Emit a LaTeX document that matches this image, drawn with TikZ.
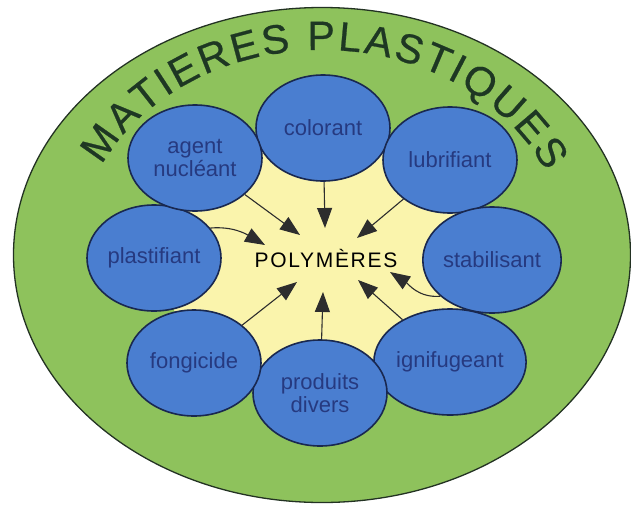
\documentclass[tikz,border=0pt]{standalone}
\usepackage{fontspec}
\setmainfont{Liberation Sans}
\newfontfamily\mppolyfont[LetterSpace=8]{Liberation Sans}
\newfontfamily\mptitlefam[FakeBold=0.6]{Liberation Sans}
\usetikzlibrary{shapes.geometric,arrows.meta,calc,decorations.text}
\definecolor{platecol}{RGB}{142,194,92}
\definecolor{platedge}{RGB}{35,50,35}
\definecolor{bluecol}{RGB}{74,126,208}
\definecolor{blueedge}{RGB}{25,40,80}
\definecolor{labelcol}{RGB}{38,58,128}
\definecolor{yellowcol}{RGB}{250,244,172}
\definecolor{arrowcol}{RGB}{45,45,45}
\definecolor{titlecol}{RGB}{30,55,35}
\newcommand\mptitlefont{\mptitlefam\fontsize{41}{44}\selectfont}
\tikzset{
  addit/.style={ellipse, draw=blueedge, line width=1.6pt, fill=bluecol,
    minimum width=134pt, minimum height=106pt, inner sep=0pt,
    font=\fontsize{22}{23}\selectfont, text=labelcol, align=center},
  arr/.style={draw=arrowcol, line width=1.1pt,
    -{Triangle[length=20pt,width=15pt]}},
}
\begin{document}
\begin{tikzpicture}[x=1pt,y=1pt]
\useasboundingbox (0,0) rectangle (631,-506);
% plate
\node[ellipse, draw=platedge, line width=1.3pt, fill=platecol,
  minimum width=617pt, minimum height=495pt, inner sep=0pt] (plate) at (322,-255) {};
% title along arc
\path[decorate, decoration={text along path,
    text={|\mptitlefont\color{titlecol}|MATIERES PLASTIQUES},
    text align={fit to path}}]
  (322,-255) ++(154:245 and 205) arc[start angle=154, end angle=24, x radius=245pt, y radius=205pt];
% centres
\coordinate (cCol) at (323,-128);
\coordinate (cLub) at (450,-160);
\coordinate (cSta) at (492,-260);
\coordinate (cIgn) at (450,-362);
\coordinate (cPro) at (320,-393);
\coordinate (cFon) at (194,-363);
\coordinate (cPla) at (154,-258);
\coordinate (cAge) at (195,-158);
% yellow core
\fill[yellowcol] ($(cCol)!0.5!(cLub)$) -- ($(cLub)!0.5!(cSta)$) -- ($(cSta)!0.5!(cIgn)$)
  -- ($(cIgn)!0.5!(cPro)$) -- ($(cPro)!0.5!(cFon)$) -- ($(cFon)!0.5!(cPla)$)
  -- ($(cPla)!0.5!(cAge)$) -- ($(cAge)!0.5!(cCol)$) -- cycle;
% additive circles
\node[addit] (colorant) at (cCol) {colorant};
\node[addit] (lubrifiant) at (cLub) {lubrifiant};
\node[addit] (stabilisant) at (cSta) {stabilisant};
\node[addit] (ignifugeant) at (cIgn) {ignifugeant};
\node[addit] (produits) at (cPro) {produits\\divers};
\node[addit] (fongicide) at (cFon) {fongicide};
\node[addit] (plastifiant) at (cPla) {plastifiant};
\node[addit] (agent) at (cAge) {agent\\nucléant};
% centre text
\node[font=\mppolyfont\fontsize{21}{23}\selectfont, text=black] (poly) at (326,-258) {POLYMÈRES};
% arrow tips
\coordinate (tCol) at (325,-228);
\coordinate (tAge) at (300,-235);
\coordinate (tLub) at (357,-238);
\coordinate (tPla) at (265,-245);
\coordinate (tSta) at (390,-272);
\coordinate (tFon) at (297,-282);
\coordinate (tPro) at (323,-292);
\coordinate (tIgn) at (358,-280);
% arrows
\draw[arr] (colorant) -- (tCol);
\draw[arr] (agent) -- (tAge);
\draw[arr] (lubrifiant) -- (tLub);
\draw[arr] (plastifiant.28) to[out=5, in=150] (tPla);
\draw[arr] (stabilisant.215) to[out=185, in=-33] (tSta);
\draw[arr] (fongicide) -- (tFon);
\draw[arr] (produits) -- (tPro);
\draw[arr] (ignifugeant) -- (tIgn);
\end{tikzpicture}
\end{document}
